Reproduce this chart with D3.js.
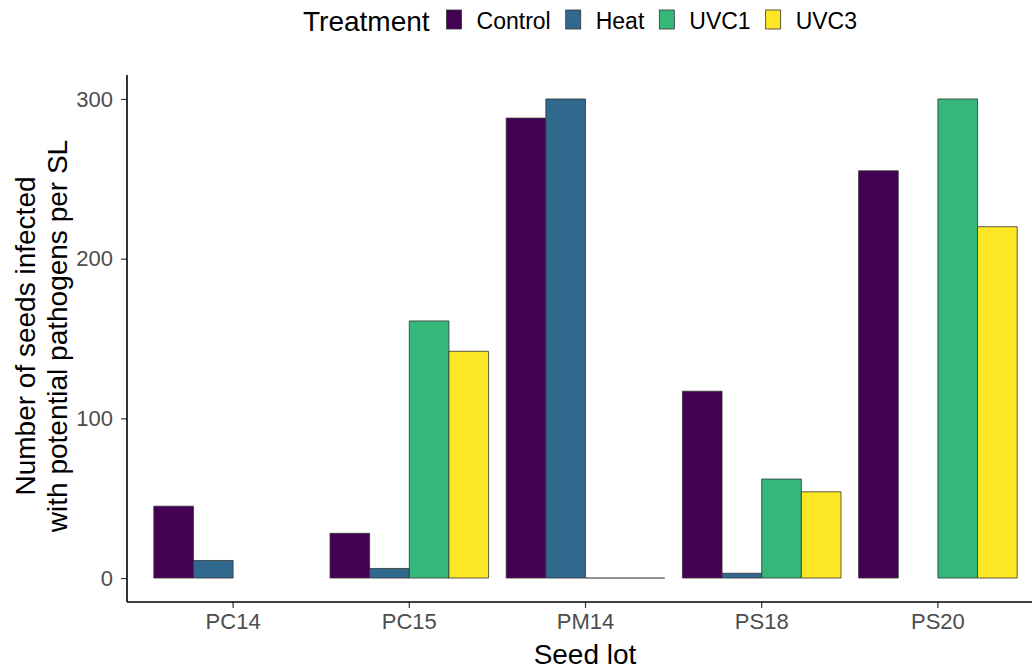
<!DOCTYPE html>
<html>
<head>
<meta charset="utf-8">
<script src="https://cdn.jsdelivr.net/npm/d3@7"></script>
<style>
  body { margin: 0; background: #fff; }
  svg { font-family: "Liberation Sans", Arial, sans-serif; }
</style>
</head>
<body>
<svg id="chart" width="1032" height="670"></svg>
<script>
// Data
const seedLots = ['PC14', 'PC15', 'PM14', 'PS18', 'PS20'];
const treatments = ['Control', 'Heat', 'UVC1', 'UVC3'];
const control = [45, 28, 288, 117, 255];
const heat = [11, 6, 300, 3, null];
const uvc1 = [null, 161, 0, 62, 300];
const uvc3 = [null, 142, 0, 54, 220];
const yTicks = [0, 100, 200, 300];
const colors = ['#440154', '#31688E', '#35B779', '#FDE725'];

const series = [control, heat, uvc1, uvc3];
const rows = [];
seedLots.forEach((lot, i) => {
  treatments.forEach((t, j) => {
    if (series[j][i] !== null) rows.push({ lot, treatment: t, value: series[j][i] });
  });
});

const svg = d3.select('#chart');

// Scales
const x = d3.scaleBand()
  .domain(seedLots)
  .range([145, 1026])
  .paddingInner(0.1)
  .paddingOuter(0.05);

const xInner = d3.scaleBand()
  .domain(treatments)
  .range([0, x.bandwidth()]);

const y = d3.scaleLinear()
  .domain([-15, 315])
  .range([602, 75]);

const color = d3.scaleOrdinal().domain(treatments).range(colors);

// Bars (paths so that zero-height bars still show their outline)
svg.append('g')
  .selectAll('path')
  .data(rows)
  .join('path')
  .attr('d', (d) => {
    const x0 = x(d.lot) + xInner(d.treatment);
    const x1 = x0 + xInner.bandwidth();
    return `M${x0},${y(0)}H${x1}V${y(d.value)}H${x0}Z`;
  })
  .attr('fill', (d) => color(d.treatment))
  .attr('stroke', (d) => (d.value === 0 ? '#555' : '#333'))
  .attr('stroke-width', 0.8);

// Y axis
const yAxis = svg.append('g')
  .attr('transform', 'translate(127,0)')
  .call(d3.axisLeft(y).tickValues(yTicks).tickSize(6).tickPadding(8).tickSizeOuter(0));
yAxis.select('.domain').remove();
yAxis.append('line')
  .attr('x1', 0).attr('x2', 0)
  .attr('y1', 75).attr('y2', 602)
  .attr('stroke', '#000').attr('stroke-width', 1.6);
yAxis.selectAll('.tick line').attr('stroke', '#333').attr('stroke-width', 1.2);
yAxis.selectAll('.tick text')
  .attr('fill', '#4d4d4d')
  .style('font-size', '22px');

// X axis
const xAxis = svg.append('g')
  .attr('transform', 'translate(0,602)')
  .call(d3.axisBottom(x).tickSize(6).tickPadding(5).tickSizeOuter(0));
xAxis.select('.domain').remove();
xAxis.append('line')
  .attr('x1', 127).attr('x2', 1032)
  .attr('y1', 0).attr('y2', 0)
  .attr('stroke', '#000').attr('stroke-width', 1.6);
xAxis.selectAll('.tick line').attr('stroke', '#333').attr('stroke-width', 1.2);
xAxis.selectAll('.tick text')
  .attr('fill', '#4d4d4d')
  .style('font-size', '22px');

// Axis titles
svg.append('text')
  .attr('x', 585)
  .attr('y', 664)
  .attr('text-anchor', 'middle')
  .style('font-size', '28px')
  .text('Seed lot');

const yTitle = svg.append('text')
  .attr('transform', 'translate(0,336) rotate(-90)')
  .attr('text-anchor', 'middle')
  .style('font-size', '28px');
yTitle.append('tspan').attr('x', 0).attr('y', 35).text('Number of seeds infected');
yTitle.append('tspan').attr('x', 0).attr('y', 67).text('with potential pathogens per SL');

// Legend
const legend = svg.append('g');
const title = legend.append('text')
  .attr('x', 303)
  .attr('y', 31)
  .style('font-size', '28px')
  .text('Treatment');
let lx = 303 + title.node().getComputedTextLength() + 17;
treatments.forEach((t) => {
  legend.append('rect')
    .attr('x', lx)
    .attr('y', 10)
    .attr('width', 15)
    .attr('height', 19)
    .attr('fill', color(t))
    .attr('stroke', '#333')
    .attr('stroke-width', 0.8);
  const label = legend.append('text')
    .attr('x', lx + 30)
    .attr('y', 29)
    .style('font-size', '23px')
    .text(t);
  lx += 30 + label.node().getComputedTextLength() + 15;
});
</script>
</body>
</html>
